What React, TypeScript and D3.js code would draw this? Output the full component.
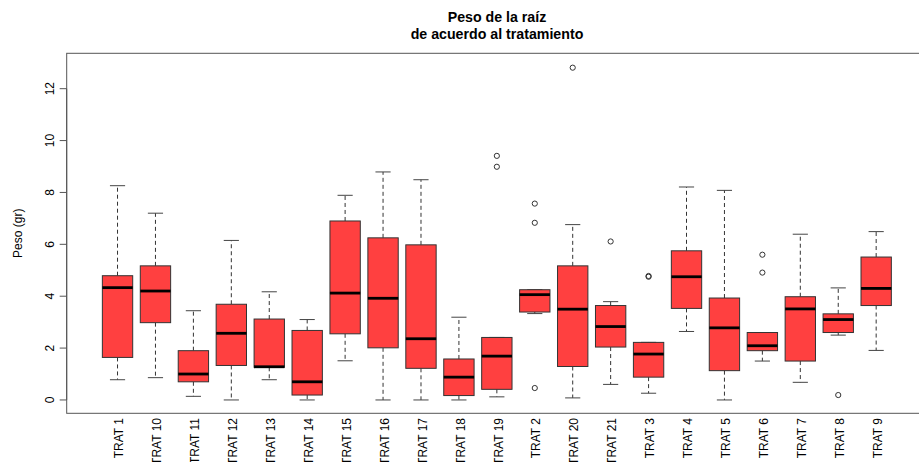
import React from "react";
import * as d3 from "d3";

// Treatment labels in plotting order (alphabetical, as R sorts factor levels)
const categories = [
  "TRAT 1", "TRAT 10", "TRAT 11", "TRAT 12", "TRAT 13", "TRAT 14", "TRAT 15",
  "TRAT 16", "TRAT 17", "TRAT 18", "TRAT 19", "TRAT 2", "TRAT 20", "TRAT 21",
  "TRAT 3", "TRAT 4", "TRAT 5", "TRAT 6", "TRAT 7", "TRAT 8", "TRAT 9",
];

// Five-number summaries per treatment (grams)
const whiskerLow = [0.78, 0.86, 0.14, 0.0, 0.78, 0.0, 1.51, 0.0, 0.0, 0.0, 0.12, 3.33, 0.08, 0.6, 0.26, 2.64, 0.0, 1.5, 0.68, 2.5, 1.91];
const q1 = [1.64, 2.98, 0.7, 1.33, 1.26, 0.19, 2.55, 2.01, 1.22, 0.17, 0.41, 3.39, 1.29, 2.04, 0.88, 3.53, 1.13, 1.9, 1.5, 2.6, 3.64];
const medians = [4.33, 4.2, 1.0, 2.57, 1.28, 0.7, 4.12, 3.92, 2.36, 0.88, 1.69, 4.06, 3.5, 2.83, 1.77, 4.75, 2.78, 2.09, 3.51, 3.1, 4.3];
const q3 = [4.79, 5.17, 1.9, 3.69, 3.12, 2.68, 6.9, 6.25, 5.98, 1.58, 2.41, 4.25, 5.17, 3.64, 2.22, 5.75, 3.93, 2.6, 3.98, 3.32, 5.51];
const whiskerHigh = [8.26, 7.2, 3.44, 6.15, 4.17, 3.1, 7.89, 8.79, 8.49, 3.19, 2.41, 4.25, 6.76, 3.79, 2.22, 8.21, 8.08, 2.6, 6.39, 4.32, 6.49];

// Outlying observations: [treatment index, value]
const outliers: [number, number][] = [
  [10, 9.41], [10, 8.99],
  [11, 7.57], [11, 6.83], [11, 0.46],
  [12, 12.81],
  [13, 6.11],
  [14, 4.75], [14, 4.78],
  [17, 5.6], [17, 4.91],
  [19, 0.19],
];

const yTicks = [0, 2, 4, 6, 8, 10, 12];

const W = 919;
const H = 462;
const FILL = "#ff4040";
const FONT = "'Liberation Sans', Arial, sans-serif";

export default function App() {
  const n = categories.length;
  const x = d3.scaleLinear().domain([-0.34, n + 1.34]).range([66.7, 927]);
  const y = d3.scaleLinear().domain([-0.514, 13.364]).range([413.3, 53.3]);
  const unit = x(1) - x(0);
  const halfBox = (unit * 0.8) / 2;
  const halfCap = halfBox / 2;

  return (
    <svg
      width={W}
      height={H}
      style={{ position: "absolute", left: 0, top: 0, background: "#fff" }}
      fontFamily={FONT}
    >
      {/* title */}
      <text x={497} y={22} textAnchor="middle" fontWeight="bold" fontSize={14.2} fill="#000">
        Peso de la raíz
      </text>
      <text x={497} y={39} textAnchor="middle" fontWeight="bold" fontSize={14.2} fill="#000">
        de acuerdo al tratamiento
      </text>

      {/* boxes */}
      {categories.map((c, i) => {
        const cx = x(i + 1);
        return (
          <g key={c}>
            <line x1={cx} x2={cx} y1={y(q3[i])} y2={y(whiskerHigh[i])} stroke="#333" strokeDasharray="4,3" strokeWidth={1} />
            <line x1={cx} x2={cx} y1={y(q1[i])} y2={y(whiskerLow[i])} stroke="#333" strokeDasharray="4,3" strokeWidth={1} />
            <line x1={cx - halfCap} x2={cx + halfCap} y1={y(whiskerHigh[i])} y2={y(whiskerHigh[i])} stroke="#444" strokeWidth={1} />
            <line x1={cx - halfCap} x2={cx + halfCap} y1={y(whiskerLow[i])} y2={y(whiskerLow[i])} stroke="#444" strokeWidth={1} />
            <rect
              x={cx - halfBox}
              y={y(q3[i])}
              width={halfBox * 2}
              height={y(q1[i]) - y(q3[i])}
              fill={FILL}
              stroke="#333"
              strokeWidth={1}
            />
            <line x1={cx - halfBox} x2={cx + halfBox} y1={y(medians[i])} y2={y(medians[i])} stroke="#000" strokeWidth={2.8} />
          </g>
        );
      })}

      {/* outliers */}
      {outliers.map(([i, v], k) => (
        <circle key={k} cx={x(i + 1)} cy={y(v)} r={2.6} fill="none" stroke="#333" strokeWidth={1} />
      ))}

      {/* plot frame */}
      <rect x={x.range()[0]} y={53.3} width={x.range()[1] - x.range()[0]} height={360} fill="none" stroke="#555" strokeWidth={1} />

      {/* y axis */}
      <line x1={66.7} x2={66.7} y1={y(0)} y2={y(12)} stroke="#555" />
      {yTicks.map((t) => (
        <g key={t} transform={`translate(66.7,${y(t)})`}>
          <line x1={-7} x2={0} stroke="#555" />
          <text
            transform="translate(-17,0) rotate(-90)"
            textAnchor="middle"
            dy="0.35em"
            fontSize={12}
            fill="#000"
          >
            {t}
          </text>
        </g>
      ))}
      <text transform={`translate(18,${(53.3 + 413.3) / 2}) rotate(-90)`} textAnchor="middle" dy="0.35em" fontSize={12} fill="#000">
        Peso (gr)
      </text>

      {/* category labels */}
      {categories.map((c, i) => (
        <text
          key={c}
          transform={`translate(${x(i + 1) + 1.5},418) rotate(-90)`}
          textAnchor="end"
          dy="0.35em"
          fontSize={12}
          fill="#000"
        >
          {c}
        </text>
      ))}
    </svg>
  );
}
